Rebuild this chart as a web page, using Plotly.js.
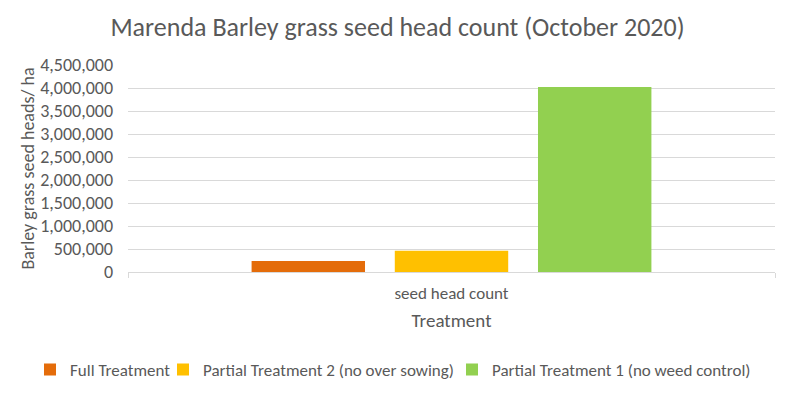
<!DOCTYPE html>
<html>
<head>
<meta charset="utf-8">
<script src="https://cdn.plot.ly/plotly-3.0.1.min.js"></script>
<style>html,body{margin:0;padding:0;background:#fff;}#chart{width:795px;height:396px;}</style>
</head>
<body>
<div id="chart"></div>
<script>
const categories = ["seed head count"];
const seriesNames = ["Full Treatment", "Partial Treatment 2 (no over sowing)", "Partial Treatment 1 (no weed control)"];
const fullTreatment = [240000];
const partial2 = [460000];
const partial1 = [4020000];
const colors = ["#E46C0A", "#FFC000", "#92D050"];
const yTicks = [0, 500000, 1000000, 1500000, 2000000, 2500000, 3000000, 3500000, 4000000, 4500000];

const FONT = 'Carlito, Calibri, Lato, sans-serif';
const TXT = "#595959";
const GRID = "#D9D9D9";

const values = [fullTreatment, partial2, partial1];
const legendIds = ["legend", "legend2", "legend3"];
const data = values.map((v, i) => ({
  type: "bar",
  x: categories,
  y: v,
  name: seriesNames[i],
  marker: {color: colors[i]},
  legend: legendIds[i],
  hoverinfo: "skip"
}));

function legendAt(left) {
  return {orientation: "h", x: left / 795, xanchor: "left", xref: "container",
          y: 0.066, yanchor: "middle", yref: "container",
          font: {size: 17, color: TXT, family: FONT}, bgcolor: "rgba(0,0,0,0)", itemclick: false};
}

const layout = {
  width: 795, height: 396,
  margin: {l: 128, r: 20, t: 65, b: 124},
  paper_bgcolor: "#fff", plot_bgcolor: "#fff",
  font: {family: FONT, color: TXT, size: 17},
  title: {text: "Marenda Barley grass seed head count (October 2020)", font: {size: 26, color: TXT, family: FONT}, x: 0.5, xanchor: "center", xref: "container", y: 0.932, yanchor: "middle"},
  barmode: "group",
  bargap: 0.336,
  bargroupgap: 0.208,
  showlegend: true,
  legend: legendAt(30),
  legend2: legendAt(163),
  legend3: legendAt(452),
  xaxis: {
    type: "category",
    showline: true, linecolor: GRID, linewidth: 1,
    ticks: "outside", tickson: "boundaries", ticklen: 5, tickcolor: GRID,
    showgrid: false,
    ticklabelstandoff: 6,
    tickfont: {size: 17, color: TXT},
    title: {text: "Treatment", font: {size: 19, color: TXT}, standoff: 10},
    fixedrange: true
  },
  yaxis: {
    range: [0, 4500000],
    tickvals: yTicks,
    tickformat: ",d",
    showgrid: true, gridcolor: GRID, gridwidth: 1,
    zeroline: false, showline: false,
    ticks: "", ticklabelstandoff: 14,
    tickfont: {size: 18, color: TXT},
    title: {text: "Barley grass seed heads/ ha", font: {size: 18, color: TXT}, standoff: 0},
    fixedrange: true
  }
};

Plotly.newPlot("chart", data, layout, {displayModeBar: false, staticPlot: true});
</script>
</body>
</html>
